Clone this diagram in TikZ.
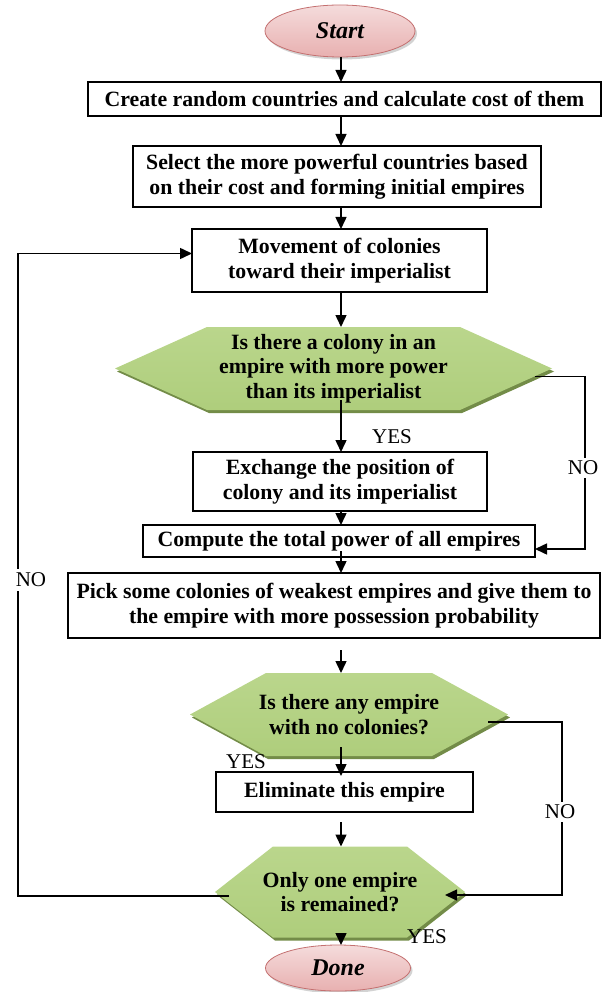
\documentclass[tikz,border=0pt]{standalone}
\usepackage{fontspec}
\setmainfont{Liberation Serif}
\usetikzlibrary{arrows.meta,calc,shapes.geometric,shadows}
\pgfdeclarelayer{bg}
\pgfsetlayers{bg,main}
\definecolor{hexlight}{RGB}{186,214,140}
\definecolor{hexmid}{RGB}{128,172,60}
\definecolor{hexdark}{RGB}{90,120,40}
\definecolor{pinkfill}{RGB}{232,176,176}
\definecolor{pinkedge}{RGB}{196,112,112}
\newcommand\hexdraw[2]{%
  \begin{pgfonlayer}{bg}
    \fill[hexdark!85] ($(#1.west)+(2,3)$) -- ($(#1.north west)+(#2+2,3)$) -- ($(#1.north east)+(-#2+2,3)$) -- ($(#1.east)+(2,3)$) -- ($(#1.south east)+(-#2+2,3)$) -- ($(#1.south west)+(#2+2,3)$) -- cycle;
    \shade[top color=hexlight, middle color=hexmid, bottom color=hexlight!80!hexmid] (#1.west) -- ($(#1.north west)+(#2,0)$) -- ($(#1.north east)+(-#2,0)$) -- (#1.east) -- ($(#1.south east)+(-#2,0)$) -- ($(#1.south west)+(#2,0)$) -- cycle;
  \end{pgfonlayer}}
\begin{document}
\begin{tikzpicture}[x=1pt,y=-1pt,
  every node/.style={inner sep=0pt, outer sep=0pt},
  boxnode/.style={draw, line width=1.1pt, fill=white, align=center, font=\fontsize{21.8}{25}\selectfont\bfseries},
  hexnode/.style={align=center, font=\fontsize{21.8}{24.5}\selectfont\bfseries},
  termnode/.style={ellipse, draw=pinkedge, line width=0.8pt, top color=pinkfill!45!white, bottom color=pinkfill,
    drop shadow={shadow xshift=2pt, shadow yshift=-2.5pt, opacity=0.35},
    font=\fontsize{24}{27}\selectfont\bfseries\itshape},
  lbl/.style={font=\fontsize{21}{24}\selectfont},
  arr/.style={line width=1.5pt, -{Triangle[length=12pt,width=11pt]}},
  ln/.style={line width=1.5pt}
]
\useasboundingbox (0,0) rectangle (608,992);

\node[termnode, minimum width=150, minimum height=52] (start) at (340,31) {Start};
\node[boxnode, minimum width=513, minimum height=34] (b1) at (344.5,99) {Create random countries and calculate cost of them};
\node[boxnode, minimum width=408, minimum height=61] (b2) at (337,176.5) {Select the more powerful countries based\\on their cost and forming initial empires};
\node[boxnode, minimum width=295, minimum height=63] (b3) at (339.5,260.5) {Movement of colonies\\toward their imperialist};
\node[hexnode, minimum width=437, minimum height=83] (h1) at (333.5,368.5) {Is there a colony in an\\empire with more power\\than its imperialist};
\node[boxnode, minimum width=294, minimum height=59] (b4) at (340,481.5) {Exchange the position of\\colony and its imperialist};
\node[boxnode, minimum width=392, minimum height=32] (b5) at (339,541) {Compute the total power of all empires};
\node[boxnode, minimum width=532, minimum height=65] (b6) at (334,605.5) {Pick some colonies of weakest empires and give them to\\the empire with more possession probability};
\node[hexnode, minimum width=318, minimum height=83] (h2) at (349,714.5) {Is there any empire\\with no colonies?};
\node[boxnode, minimum width=257, minimum height=40] (b7) at (344.5,792) {Eliminate this empire};
\node[hexnode, minimum width=250, minimum height=91] (h3) at (340,892) {Only one empire\\is remained?};
\node[termnode, minimum width=145, minimum height=46] (done) at (338,968) {Done};

\hexdraw{h1}{92}
\hexdraw{h2}{76}
\hexdraw{h3}{58}

\coordinate (ax) at (341,0);
\coordinate (r1) at (585,0);
\coordinate (r2) at (562,0);
\coordinate (lx) at (18,0);

% main flow
\draw[arr] (ax |- start.south) -- (ax |- b1.north);
\draw[arr] (ax |- b1.south) -- (ax |- b2.north);
\draw[arr] (ax |- b2.south) -- (ax |- b3.north);
\draw[arr] (ax |- b3.south) -- (ax |- h1.north);
\draw[arr] ($(ax |- h1.south)+(0,-10)$) -- (ax |- b4.north);
\draw[arr] (ax |- b4.south) -- (ax |- b5.north);
\draw[arr] ($(ax |- b5.south)+(0,-6)$) -- (ax |- b6.north);
\draw[arr] ($(ax |- b6.south)+(0,12)$) -- (ax |- h2.north);
\draw[arr] ($(ax |- h2.south)+(0,-9)$) -- ($(ax |- b7.north)+(0,4)$);
\draw[arr] ($(ax |- b7.south)+(0,10)$) -- (ax |- h3.north);
\draw[arr] ($(ax |- h3.south)+(0,-3)$) -- (ax |- done.north);

% NO branches
\coordinate (p1) at ($(h1.east)+(-17,8)$);
\draw[arr] (p1) -- (p1 -| r1) |- ($(b5.east)+(0,8)$);
\coordinate (p2) at ($(h2.east)+(-20,7.5)$);
\draw[arr] (p2) -- (p2 -| r2) |- ($(h3.east)+(-20,3)$);
\coordinate (p3) at ($(h3.west)+(14,4)$);
\draw[arr] (p3) -- (p3 -| lx) |- ($(b3.west)+(0,-7)$);

% labels
\node[lbl] (yes1) at (392,437) {YES};
\node[lbl, fill=white, inner ysep=3pt] (no1) at (583,468) {NO};
\node[lbl, fill=white, inner ysep=4pt] (no3) at (31,580) {NO};
\node[lbl] (yes2) at (246,762) {YES};
\node[lbl, fill=white, inner ysep=3pt] (no2) at (560,812) {NO};
\node[lbl] (yes3) at (427,937) {YES};
\end{tikzpicture}
\end{document}
